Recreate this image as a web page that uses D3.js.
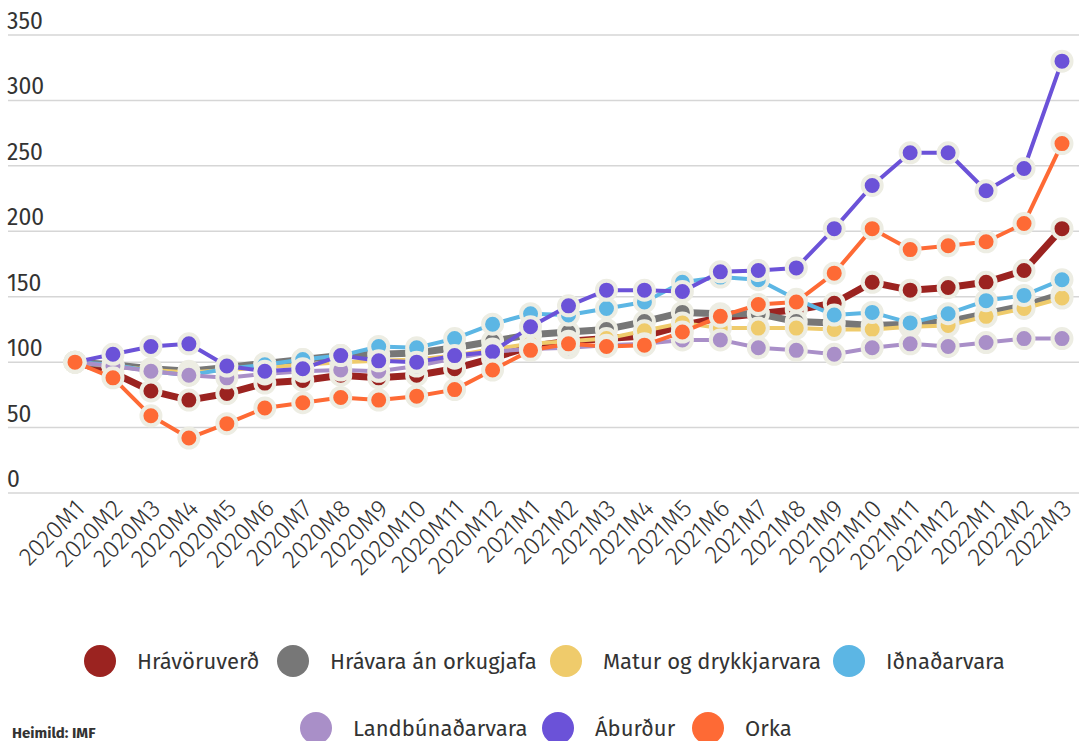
<!DOCTYPE html>
<html>
<head>
<meta charset="utf-8">
<script src="https://cdn.jsdelivr.net/npm/d3@7/dist/d3.min.js"></script>
<style>
  body { margin: 0; background: #fff; }
  svg text { font-family: "Fira Sans", Roboto, "Noto Sans", sans-serif; fill: #333; }
</style>
</head>
<body>
<svg id="chart" width="1079" height="741"></svg>
<script>
// months on the x axis
const months = ["2020M1","2020M2","2020M3","2020M4","2020M5","2020M6","2020M7","2020M8","2020M9","2020M10","2020M11","2020M12",
  "2021M1","2021M2","2021M3","2021M4","2021M5","2021M6","2021M7","2021M8","2021M9","2021M10","2021M11","2021M12",
  "2022M1","2022M2","2022M3"];

const yTicks = [0, 50, 100, 150, 200, 250, 300, 350];

// series values (index, 2020M1 = 100)
const hravoruverd = [100, 92, 78, 71, 76, 84, 86, 90, 88, 90, 95, 103, 112, 116, 118, 120, 128, 134, 137, 140, 145, 161, 155, 157, 161, 170, 202];
const hravaraAnOrku = [100, 98, 95, 93, 96, 99, 102, 105, 106, 107, 111, 116, 121, 123, 125, 131, 138, 137, 137, 131, 130, 128, 129, 131, 137, 143, 152];
const maturDrykkir = [100, 97, 94, 92, 94, 96, 98, 100, 101, 102, 105, 110, 114, 116, 118, 124, 130, 126, 126, 126, 125, 125, 127, 128, 135, 141, 149];
const idnadarvara = [100, 98, 93, 90, 95, 98, 102, 105, 112, 111, 118, 129, 137, 136, 141, 146, 161, 165, 163, 148, 136, 138, 130, 137, 147, 151, 163];
const landbunadarvara = [100, 97, 93, 90, 88, 91, 93, 94, 93, 97, 103, 108, 110, 111, 113, 114, 117, 117, 111, 109, 106, 111, 114, 112, 115, 118, 118];
const aburdur = [100, 106, 112, 114, 97, 93, 95, 105, 101, 100, 105, 108, 127, 143, 155, 155, 154, 169, 170, 172, 202, 235, 260, 260, 231, 248, 330];
const orka = [100, 88, 59, 42, 53, 65, 69, 73, 71, 74, 79, 94, 109, 114, 112, 113, 123, 135, 144, 146, 168, 202, 186, 189, 192, 206, 267];

const seriesNames = ["Hrávöruverð", "Hrávara án orkugjafa", "Matur og drykkjarvara", "Iðnaðarvara", "Landbúnaðarvara", "Áburður", "Orka"];
const seriesValues = [hravoruverd, hravaraAnOrku, maturDrykkir, idnadarvara, landbunadarvara, aburdur, orka];
const colors = ["#9b2320", "#777777", "#efcb6b", "#5cb6e4", "#a98fc8", "#6b52d8", "#fe6a35"];
const widths = [7, 7, 4, 4, 4, 4, 4];

const svg = d3.select("#chart");

let x = d3.scalePoint()
    .domain(months)
    .range([75, 1062]);

let y = d3.scaleLinear()
    .domain([0, 350])
    .range([493, 35]);

// gridlines + y labels
svg.append("g")
    .selectAll("line")
    .data(yTicks)
    .enter()
    .append("line")
    .attr("x1", 8)
    .attr("x2", 1079)
    .attr("y1", d => y(d))
    .attr("y2", d => y(d))
    .attr("stroke", "#d6d6d6")
    .attr("stroke-width", 1.5);

svg.append("g")
    .selectAll("text")
    .data(yTicks)
    .enter()
    .append("text")
    .attr("x", 7)
    .attr("y", d => y(d) - 6)
    .attr("font-size", 23)
    .text(d => d);

// x labels, rotated
svg.append("g")
    .selectAll("text")
    .data(months)
    .enter()
    .append("text")
    .attr("text-anchor", "end")
    .attr("font-size", 25)
    .attr("font-weight", 300)
    .attr("transform", d => "translate(" + (x(d) + 11) + ",510) rotate(-45)")
    .text(d => d);

let line = d3.line()
    .x((d, i) => x(months[i]))
    .y(d => y(d));

seriesValues.forEach((vals, k) => {
    let g = svg.append("g");
    g.append("path")
        .datum(vals)
        .attr("d", line)
        .attr("fill", "none")
        .attr("stroke", colors[k])
        .attr("stroke-width", widths[k])
        .attr("stroke-linejoin", "round");
    g.selectAll("circle")
        .data(vals)
        .enter()
        .append("circle")
        .attr("cx", (d, i) => x(months[i]))
        .attr("cy", d => y(d))
        .attr("r", 9.5)
        .attr("fill", colors[k])
        .attr("stroke", "#ededE3")
        .attr("stroke-width", 4);
});

// legend
const legendPos = [[100, 661], [293, 661], [566, 661], [849, 661], [316, 728], [558, 728], [708, 728]];
let legend = svg.append("g")
    .selectAll("g")
    .data(seriesNames)
    .enter()
    .append("g")
    .attr("transform", (d, i) => "translate(" + legendPos[i][0] + "," + legendPos[i][1] + ")");

legend.append("circle")
    .attr("r", 16)
    .attr("fill", (d, i) => colors[i]);

legend.append("text")
    .attr("x", 37)
    .attr("y", 8)
    .attr("font-size", 22)
    .text(d => d);

svg.append("text")
    .attr("x", 12)
    .attr("y", 738)
    .attr("font-size", 15)
    .attr("font-weight", "bold")
    .text("Heimild: IMF");
</script>
</body>
</html>
